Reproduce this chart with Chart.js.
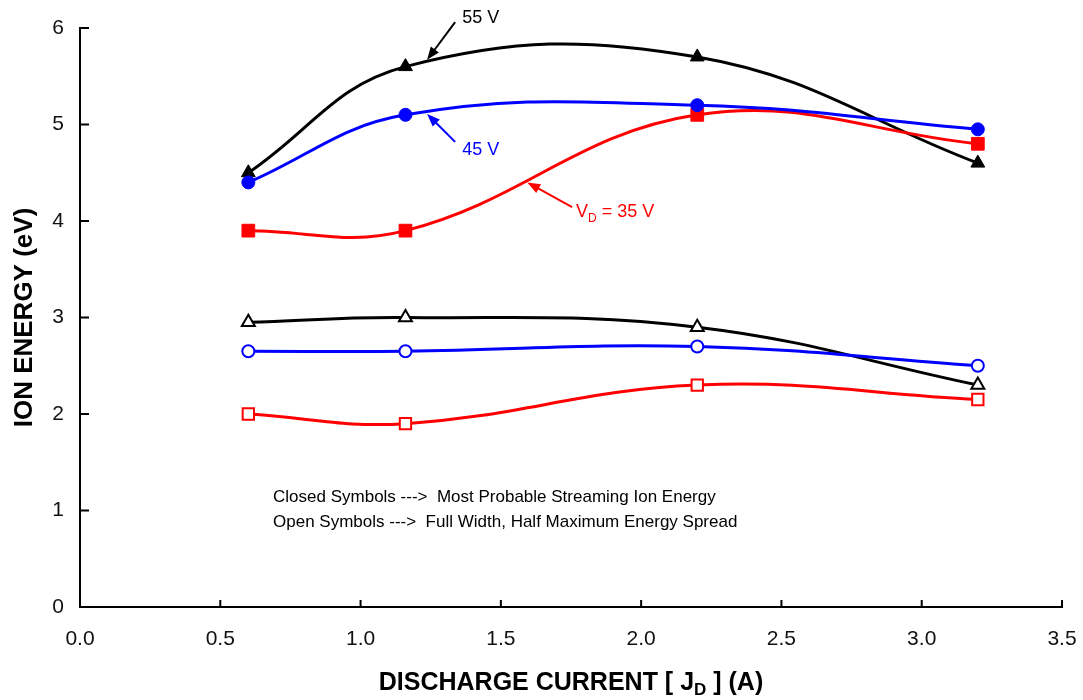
<!DOCTYPE html>
<html>
<head>
<meta charset="utf-8">
<script src="https://cdn.jsdelivr.net/npm/chart.js@4"></script>
<style>
  body { margin: 0; background: #fff; }
  #wrap { width: 1083px; height: 700px; }
</style>
</head>
<body>
<div id="wrap"><canvas id="myChart"></canvas></div>
<script>
var current = [0.6, 1.16, 2.2, 3.2];

// closed symbols: most probable streaming ion energy
var peak55 = [4.5, 5.6, 5.7, 4.6];
var peak45 = [4.4, 5.1, 5.2, 4.95];
var peak35 = [3.9, 3.9, 5.1, 4.8];

// open symbols: FWHM energy spread
var spread55 = [2.95, 3.0, 2.9, 2.3];
var spread45 = [2.65, 2.65, 2.7, 2.5];
var spread35 = [2.0, 1.9, 2.3, 2.15];

var xTicks = [0, 0.5, 1.0, 1.5, 2.0, 2.5, 3.0, 3.5];
var yTicks = [0, 1, 2, 3, 4, 5, 6];

var FONT = "'Liberation Sans', Arial, sans-serif";

function pts(ys) {
    return current.map(function (x, i) { return { x: x, y: ys[i] }; });
}

function series(ys, color, style, radius, open, order) {
    return {
        data: pts(ys),
        borderColor: color,
        borderWidth: 3,
        backgroundColor: open ? '#ffffff' : color,
        pointBackgroundColor: open ? '#ffffff' : color,
        pointBorderColor: color,
        pointBorderWidth: open ? 2 : 1,
        pointStyle: style,
        pointRadius: radius,
        pointHoverRadius: radius,
        tension: 0.4,
        fill: false,
        order: order
    };
}

// arrows and labels, placed in data units
var notes = [
    { text: '55 V', color: '#000', tail: [1.337, 6.06], tip: [1.237, 5.67], at: [1.362, 6.1] },
    { text: '45 V', color: '#0000ff', tail: [1.337, 4.82], tip: [1.237, 5.11], at: [1.362, 4.74] },
    { text: 'VD', color: '#ff0000', tail: [1.754, 4.145], tip: [1.594, 4.40], at: [1.768, 4.09] }
];

function arrow(ctx, x1, y1, x2, y2, color) {
    var a = Math.atan2(y2 - y1, x2 - x1);
    var len = 13, hw = 5;
    ctx.strokeStyle = color;
    ctx.fillStyle = color;
    ctx.lineWidth = 2;
    ctx.beginPath();
    ctx.moveTo(x1, y1);
    ctx.lineTo(x2 - Math.cos(a) * len * 0.8, y2 - Math.sin(a) * len * 0.8);
    ctx.stroke();
    ctx.beginPath();
    ctx.moveTo(x2, y2);
    ctx.lineTo(x2 - Math.cos(a) * len + Math.sin(a) * hw, y2 - Math.sin(a) * len - Math.cos(a) * hw);
    ctx.lineTo(x2 - Math.cos(a) * len - Math.sin(a) * hw, y2 - Math.sin(a) * len + Math.cos(a) * hw);
    ctx.closePath();
    ctx.fill();
}

var overlay = {
    id: 'overlay',
    afterDraw: function (chart) {
        var ctx = chart.ctx;
        var xs = chart.scales.x, ys = chart.scales.y;
        var area = chart.chartArea;
        ctx.save();

        // inward tick marks
        ctx.strokeStyle = '#000';
        ctx.lineWidth = 2;
        xTicks.forEach(function (v) {
            if (v === 0) return;
            var px = xs.getPixelForValue(v);
            ctx.beginPath();
            ctx.moveTo(px, area.bottom);
            ctx.lineTo(px, area.bottom - 7);
            ctx.stroke();
        });
        yTicks.forEach(function (v) {
            if (v === 0) return;
            var py = ys.getPixelForValue(v);
            ctx.beginPath();
            ctx.moveTo(area.left, py);
            ctx.lineTo(area.left + 9, py);
            ctx.stroke();
        });

        // arrows + labels
        notes.forEach(function (n) {
            arrow(ctx, xs.getPixelForValue(n.tail[0]), ys.getPixelForValue(n.tail[1]),
                xs.getPixelForValue(n.tip[0]), ys.getPixelForValue(n.tip[1]), n.color);
            var tx = xs.getPixelForValue(n.at[0]), ty = ys.getPixelForValue(n.at[1]);
            ctx.fillStyle = n.color;
            ctx.textBaseline = 'middle';
            ctx.textAlign = 'left';
            ctx.font = '18px ' + FONT;
            if (n.text === 'VD') {
                ctx.fillText('V', tx, ty);
                var w = ctx.measureText('V').width;
                ctx.font = '12px ' + FONT;
                ctx.fillText('D', tx + w, ty + 6);
                var w2 = ctx.measureText('D').width;
                ctx.font = '18px ' + FONT;
                ctx.fillText(' = 35 V', tx + w + w2, ty);
            } else {
                ctx.fillText(n.text, tx, ty);
            }
        });

        // symbol note
        ctx.fillStyle = '#000';
        ctx.font = '17px ' + FONT;
        ctx.textAlign = 'left';
        ctx.textBaseline = 'middle';
        var nx = xs.getPixelForValue(0.688);
        ctx.fillText('Closed Symbols --->  Most Probable Streaming Ion Energy', nx, ys.getPixelForValue(1.14));
        ctx.fillText('Open Symbols --->  Full Width, Half Maximum Energy Spread', nx, ys.getPixelForValue(0.88));

        // x axis title with subscript
        ctx.font = 'bold 25px ' + FONT;
        var p1 = 'DISCHARGE CURRENT [ J', p2 = 'D', p3 = ' ] (A)';
        var w1 = ctx.measureText(p1).width, w3 = ctx.measureText(p3).width;
        ctx.font = 'bold 17px ' + FONT;
        var wsub = ctx.measureText(p2).width;
        var total = w1 + wsub + w3;
        var cx = (area.left + area.right) / 2 - total / 2;
        var by = 690;
        ctx.textBaseline = 'alphabetic';
        ctx.font = 'bold 25px ' + FONT;
        ctx.fillText(p1, cx, by);
        ctx.font = 'bold 17px ' + FONT;
        ctx.fillText(p2, cx + w1, by + 5);
        ctx.font = 'bold 25px ' + FONT;
        ctx.fillText(p3, cx + w1 + wsub, by);

        // y axis title
        ctx.translate(25, (area.top + area.bottom) / 2);
        ctx.rotate(-Math.PI / 2);
        ctx.textAlign = 'center';
        ctx.textBaseline = 'middle';
        ctx.font = 'bold 26px ' + FONT;
        ctx.fillText('ION ENERGY (eV)', 0, 0);

        ctx.restore();
    }
};

var ctx = document.getElementById('myChart').getContext('2d');
var graphData = {
    type: 'line',
    data: {
        datasets: [
            series(peak45, '#0000ff', 'circle', 6.5, false, 1),
            series(peak35, '#ff0000', 'rect', 9, false, 2),
            series(peak55, '#000000', 'triangle', 8, false, 3),
            series(spread45, '#0000ff', 'circle', 6, true, 4),
            series(spread35, '#ff0000', 'rect', 8, true, 5),
            series(spread55, '#000000', 'triangle', 7.5, true, 6)
        ]
    },
    options: {
        responsive: true,
        maintainAspectRatio: false,
        animation: false,
        layout: { padding: { top: 28, right: 21, left: 0, bottom: 0 } },
        plugins: { legend: { display: false }, tooltip: { enabled: false } },
        scales: {
            x: {
                type: 'linear',
                min: 0, max: 3.5,
                afterFit: function (s) {
                    s.height = 93;
                    s.paddingLeft = 0;
                    s.paddingRight = 0;
                },
                afterBuildTicks: function (s) { s.ticks = xTicks.map(function (v) { return { value: v }; }); },
                grid: { display: true, drawOnChartArea: false, drawTicks: false },
                border: { display: true, color: '#000', width: 2 },
                ticks: {
                    padding: 20,
                    color: '#111',
                    font: { family: FONT, size: 21 },
                    maxRotation: 0,
                    callback: function (v) { return v.toFixed(1); }
                }
            },
            y: {
                min: 0, max: 6,
                afterFit: function (s) {
                    s.width = 80;
                    s.paddingTop = 0;
                    s.paddingBottom = 0;
                },
                afterBuildTicks: function (s) { s.ticks = yTicks.map(function (v) { return { value: v }; }); },
                grid: { display: true, drawOnChartArea: false, drawTicks: false },
                border: { display: true, color: '#000', width: 2 },
                ticks: {
                    padding: 16,
                    color: '#111',
                    font: { family: FONT, size: 21 },
                    callback: function (v) { return String(v); }
                }
            }
        }
    },
    plugins: [overlay]
};
var myChart = new Chart(ctx, graphData);
</script>
</body>
</html>
